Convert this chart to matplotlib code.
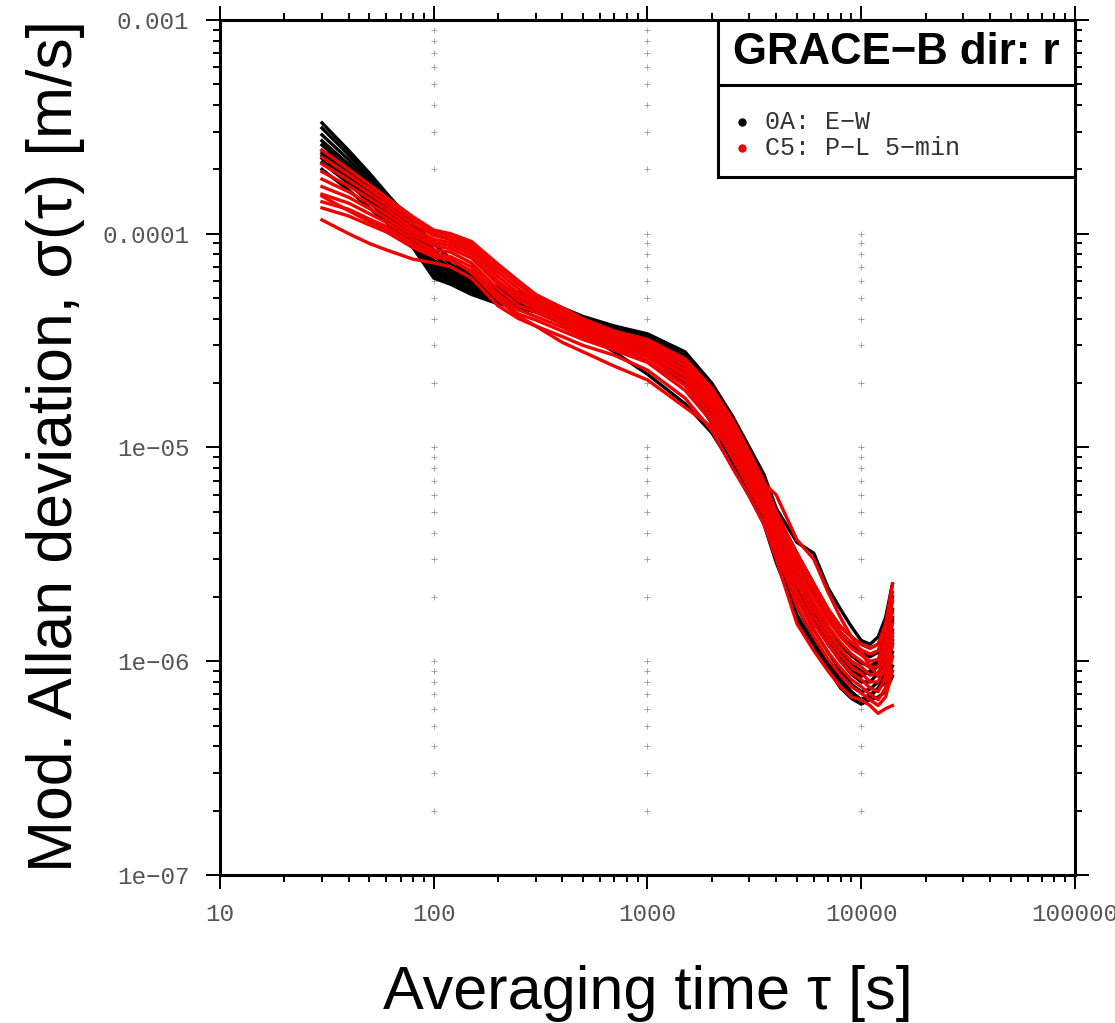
import numpy as np
import matplotlib
matplotlib.use('Agg')
import matplotlib.pyplot as plt
from matplotlib.patches import Rectangle
from matplotlib.ticker import FixedLocator, FixedFormatter, LogLocator, NullFormatter

# averaging times [s]
tau = [30, 40, 50, 60, 80, 100, 120, 150, 200, 250, 300, 400, 500, 700, 1000, 1500,
       2000, 2500, 3000, 3500, 4000, 5000, 6000, 7000, 8000, 9000, 10000, 11000,
       12000, 13000, 14000]

# modified Allan deviation, in micro m/s  (0A: E-W)
black_0a = [
    [330, 245, 192, 155, 112, 90, 76, 63, 56, 53, 51, 45, 41, 37, 34, 28, 20, 14, 10, 7.5, 5.2, 3.6, 3.2, 2.2, 1.75, 1.45, 1.25, 1.2, 1.3, 1.6, 2.3],
    [312, 234, 184, 150, 108, 84, 72, 62, 55, 52, 50, 44, 40.5, 36.5, 33, 27, 19, 13.2, 9.4, 7.0, 4.9, 3.2, 2.3, 1.75, 1.45, 1.3, 1.2, 1.15, 1.2, 1.45, 2.0],
    [290, 222, 177, 145, 104, 79, 69, 60, 54, 51, 49, 43, 40, 36, 32, 26, 18, 12.5, 8.9, 6.6, 4.6, 2.9, 2.05, 1.6, 1.32, 1.18, 1.1, 1.05, 1.1, 1.3, 1.75],
    [272, 211, 170, 140, 100, 75, 67, 59, 53, 50, 48, 42.5, 39, 35, 31, 25, 17, 11.8, 8.3, 6.2, 4.3, 2.6, 1.85, 1.45, 1.2, 1.06, 0.98, 0.95, 1.0, 1.15, 1.55],
    [260, 202, 162, 134, 97, 72, 66, 57.5, 52, 49, 47, 41.5, 38, 34, 30.5, 24, 16.5, 11.2, 7.9, 5.8, 4.1, 2.4, 1.7, 1.35, 1.1, 0.96, 0.9, 0.88, 0.95, 1.1, 1.4],
    [245, 193, 155, 129, 94, 68, 64, 56, 51, 48, 46, 40.5, 37, 33.5, 29.5, 23, 15.5, 10.5, 7.4, 5.4, 3.8, 2.2, 1.55, 1.2, 1.0, 0.87, 0.8, 0.8, 0.88, 1.0, 1.25],
    [232, 184, 148, 124, 91, 66, 62, 55, 50, 47, 45, 40, 36.5, 33, 29, 22, 15, 9.9, 7.0, 5.1, 3.5, 2.0, 1.4, 1.1, 0.9, 0.78, 0.72, 0.74, 0.8, 0.9, 1.1],
    [215, 172, 140, 119, 88, 64, 60, 53.5, 48, 46, 44, 39, 35.5, 32, 28, 21, 14, 9.2, 6.5, 4.8, 3.2, 1.8, 1.28, 1.0, 0.82, 0.72, 0.66, 0.7, 0.74, 0.8, 0.95],
    [200, 160, 132, 113, 86, 62, 58, 52, 47, 45, 43, 38, 35, 31, 27, 20, 13, 8.5, 6.0, 4.5, 3.0, 1.6, 1.15, 0.92, 0.75, 0.67, 0.63, 0.66, 0.68, 0.72, 0.85],
    [225, 176, 144, 121, 89, 65, 61, 54, 49, 46, 44, 38, 34, 28, 22, 16, 11.7, 8.2, 5.9, 4.4, 2.9, 1.65, 1.2, 0.95, 0.8, 0.7, 0.66, 0.68, 0.75, 0.85, 1.2],
    [238, 188, 150, 126, 92, 70, 63, 55.5, 50.5, 48, 46, 41, 37.5, 34, 30, 23.5, 16, 10.8, 7.6, 5.6, 3.9, 2.3, 1.6, 1.25, 1.02, 0.9, 0.85, 0.9, 1.0, 1.2, 1.6],
]

# modified Allan deviation, in micro m/s  (C5: P-L 5-min)
red_c5 = [
    [246, 200, 170, 148, 120, 104, 100, 92, 72, 60, 52, 45, 40, 35, 32, 26, 19, 13.5, 9.5, 7.0, 5.0, 3.2, 2.3, 1.75, 1.45, 1.3, 1.2, 1.15, 1.2, 1.5, 2.3],
    [228, 189, 162, 142, 116, 101, 97, 89, 69, 57.5, 50.5, 44, 39, 34.5, 31, 25, 18.3, 12.9, 9.1, 6.7, 4.8, 3.0, 2.15, 1.65, 1.37, 1.22, 1.13, 1.08, 1.12, 1.4, 2.1],
    [212, 178, 154, 136, 111, 98, 94, 86, 66, 55, 49, 43, 38, 34, 30, 24, 17.6, 12.3, 8.7, 6.4, 4.6, 2.8, 2.0, 1.55, 1.3, 1.15, 1.07, 1.0, 1.02, 1.25, 1.9],
    [195, 167, 146, 130, 106, 94, 91, 83, 63, 52.5, 47.5, 41.5, 37, 33, 29, 23, 17, 11.8, 8.3, 6.1, 4.4, 2.6, 1.87, 1.45, 1.22, 1.08, 1.0, 0.93, 0.95, 1.15, 1.7],
    [180, 157, 138, 124, 102, 91, 88, 80, 60, 50.5, 46, 40.5, 36, 32, 28, 22, 16.2, 11.2, 7.9, 5.8, 4.2, 2.4, 1.75, 1.36, 1.14, 1.0, 0.94, 0.86, 0.88, 1.05, 1.5],
    [166, 148, 131, 118, 98, 88, 85, 77, 58, 48.5, 44.5, 39, 35, 31, 27.5, 21.5, 15.5, 10.7, 7.6, 5.6, 4.0, 2.3, 1.62, 1.28, 1.07, 0.94, 0.88, 0.8, 0.8, 0.95, 1.35],
    [153, 139, 124, 113, 94, 84, 82, 73, 55, 46, 43, 38, 34, 30, 26.5, 20.5, 14.8, 10.1, 7.2, 5.3, 3.8, 2.1, 1.5, 1.2, 1.0, 0.88, 0.82, 0.75, 0.72, 0.85, 1.2],
    [141, 130, 117, 108, 90, 81, 78, 70, 52, 44, 41, 36.5, 33, 29.5, 25.5, 19.5, 14, 9.5, 6.8, 5.0, 3.6, 1.95, 1.4, 1.1, 0.93, 0.82, 0.76, 0.7, 0.66, 0.75, 1.05],
    [132, 121, 110, 102, 86, 78, 75, 67, 50, 42, 39.5, 35, 32, 28.5, 25, 18.5, 13.2, 8.9, 6.4, 4.8, 3.3, 1.8, 1.3, 1.02, 0.86, 0.76, 0.71, 0.66, 0.62, 0.68, 0.9],
    [116, 100, 90, 84, 76, 73, 70, 62, 46, 40, 37, 33, 30, 27, 23, 17, 12, 8.0, 5.9, 4.4, 3.0, 1.5, 1.12, 0.9, 0.76, 0.68, 0.66, 0.62, 0.57, 0.6, 0.62],
    [150, 128, 114, 104, 88, 80, 76, 66, 49, 41, 37, 31, 28, 24, 20.7, 15.4, 12.5, 9.5, 7.8, 6.8, 6.0, 3.7, 3.0, 2.1, 1.6, 1.3, 1.1, 0.95, 0.85, 0.9, 1.3],
]

x_ticks = [10, 100, 1000, 10000, 100000]
x_labels = ['10', '100', '1000', '10000', '100000']
y_ticks = [1e-7, 1e-6, 1e-5, 1e-4, 1e-3]
y_labels = ['1e\u221207', '1e\u221206', '1e\u221205', '0.0001', '0.001']
grid_x = [100, 1000, 10000]

mono = ['Liberation Mono', 'DejaVu Sans Mono']
sans = ['Liberation Sans', 'DejaVu Sans']
red = '#f20000'

fig = plt.figure(figsize=(11.15, 10.23), dpi=100)
ax = fig.add_axes([0.1973, 0.1447, 0.7668, 0.8358])
ax.set_xscale('log')
ax.set_yscale('log')

# dotted grid of small crosses at the decades
grid_y = [k * 10.0 ** n for n in range(-7, -3) for k in range(1, 10)][1:]
for gx in grid_x:
    ax.plot([gx] * len(grid_y), grid_y, ls='none', marker='+', ms=4,
            mew=0.6, color='#999999', zorder=1)

for c in black_0a:
    ax.plot(tau, np.array(c) * 1e-6, color='black', lw=2.4, zorder=2,
            solid_joinstyle='round')
for c in red_c5:
    ax.plot(tau, np.array(c) * 1e-6, color=red, lw=2.4, zorder=3,
            solid_joinstyle='round')

ax.set_xlim(10, 100000)
ax.set_ylim(1e-7, 1e-3)

ax.xaxis.set_major_locator(FixedLocator(x_ticks))
ax.xaxis.set_major_formatter(FixedFormatter(x_labels))
ax.yaxis.set_major_locator(FixedLocator(y_ticks))
ax.yaxis.set_major_formatter(FixedFormatter(y_labels))
ax.xaxis.set_minor_locator(LogLocator(base=10, subs=np.arange(2, 10), numticks=20))
ax.yaxis.set_minor_locator(LogLocator(base=10, subs=np.arange(2, 10), numticks=20))
ax.xaxis.set_minor_formatter(NullFormatter())
ax.yaxis.set_minor_formatter(NullFormatter())

ax.tick_params(which='both', direction='out', top=True, right=True,
               width=1.4, color='black', labelcolor='#555555', labelsize=17.5)
ax.tick_params(which='major', length=10)
ax.tick_params(which='minor', length=5)
ax.tick_params(axis='x', pad=10)
ax.tick_params(axis='y', pad=12)
for lab in ax.get_xticklabels() + ax.get_yticklabels():
    lab.set_family(mono)
for sp in ax.spines.values():
    sp.set_linewidth(2.2)

# title / legend box
ax.add_patch(Rectangle((0.5825, 0.8164), 1 - 0.5825, 1 - 0.8164, transform=ax.transAxes,
                       facecolor='white', edgecolor='black', lw=2.2, zorder=5, clip_on=False))
ax.plot([0.5825, 1.0], [0.924, 0.924], transform=ax.transAxes, color='black', lw=2.2,
        zorder=6, clip_on=False)
ax.text(0.791, 0.962, 'GRACE\u2212B dir: r', transform=ax.transAxes, ha='center', va='center',
        fontsize=31.5, fontweight='bold', family=sans, zorder=7)
ax.plot(0.6105, 0.8807, 'o', color='black', ms=5, transform=ax.transAxes, zorder=7, clip_on=False)
ax.plot(0.6105, 0.8503, 'o', color=red, ms=5, transform=ax.transAxes, zorder=7, clip_on=False)
ax.text(0.6374, 0.8807, '0A: E\u2212W', transform=ax.transAxes, ha='left', va='center',
        fontsize=18, family=mono, color='#333333', zorder=7)
ax.text(0.6374, 0.8503, 'C5: P\u2212L 5\u2212min', transform=ax.transAxes, ha='left', va='center',
        fontsize=18, family=mono, color='#333333', zorder=7)

fig.text(0.5815, 0.014, 'Averaging time \u03c4 [s]', ha='center', va='baseline',
         fontsize=44, family=sans)
fig.text(0.05, 0.564, 'Mod. Allan deviation, \u03c3(\u03c4) [m/s]', ha='center', va='center',
         rotation=90, fontsize=45, family=sans)

fig.savefig('out.png', dpi=100)
